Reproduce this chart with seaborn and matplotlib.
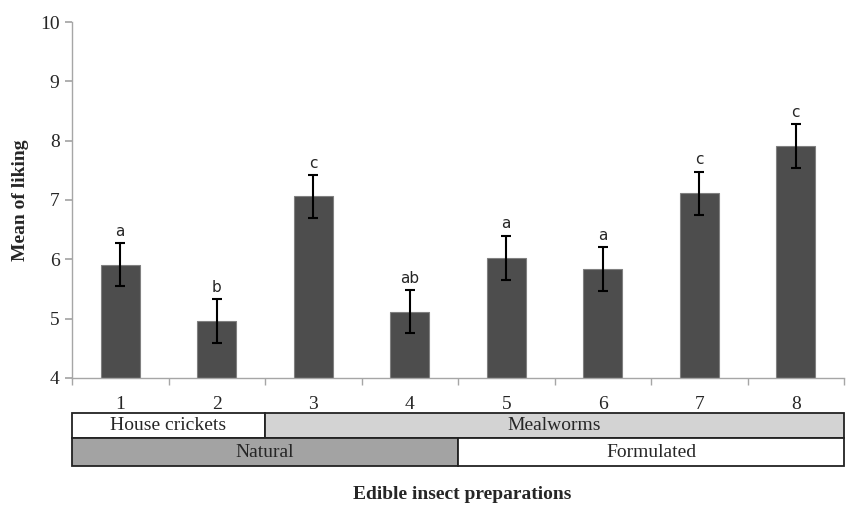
import pandas as pd
import matplotlib.pyplot as plt
import matplotlib.transforms as mtransforms
from matplotlib.patches import Rectangle
import seaborn as sns

# data
preparations = ['1', '2', '3', '4', '5', '6', '7', '8']
mean_liking = [5.91, 4.96, 7.06, 5.12, 6.03, 5.83, 7.11, 7.91]
std_error = [0.36, 0.37, 0.36, 0.36, 0.37, 0.37, 0.37, 0.37]
letters = ['a', 'b', 'c', 'ab', 'a', 'a', 'c', 'c']

# grouping rows under the x axis: (label, first index, last index)
insect_row = [('House crickets', 0, 1), ('Mealworms', 2, 7)]
insect_colors = ['white', '#d3d3d3']
form_row = [('Natural', 0, 3), ('Formulated', 4, 7)]
form_colors = ['#a3a3a3', 'white']

sns.set_theme(style="white")
plt.rcParams['font.family'] = ['Liberation Serif', 'DejaVu Serif']

df = pd.DataFrame({'prep': preparations, 'mean': mean_liking, 'se': std_error})

fig = plt.figure(figsize=(8.46, 5.09), dpi=100)
ax = fig.add_axes([72 / 846, 1 - 378 / 509, 772 / 846, 356 / 509])

sns.barplot(data=df, x='prep', y='mean', color='#4d4d4d', width=0.4,
            edgecolor='#808080', linewidth=0.8, saturation=1, errorbar=None, ax=ax)
xs = range(len(preparations))
ax.errorbar(xs, mean_liking, yerr=std_error, fmt='none', ecolor='black',
            elinewidth=1.5, capsize=3.5, capthick=1.5)

for x, m, e, l in zip(xs, mean_liking, std_error, letters):
    ax.annotate(l, (x, m + e), xytext=(0, 3), textcoords='offset points',
                ha='center', va='bottom', fontsize=11, family='DejaVu Sans')

ax.set_ylim(4, 10)
ax.set_xlim(-0.5, len(preparations) - 0.5)
ax.set_yticks(range(4, 11))
ax.tick_params(axis='y', left=True, length=5, color='#a6a6a6', labelsize=14, pad=4)
ax.tick_params(axis='x', which='major', length=0, labelsize=14, pad=13)
ax.set_xticks([i - 0.5 for i in range(len(preparations) + 1)], minor=True)
ax.tick_params(axis='x', which='minor', bottom=True, length=5, color='#a6a6a6')
sns.despine(ax=ax)
for s in ['left', 'bottom']:
    ax.spines[s].set_color('#a6a6a6')
    ax.spines[s].set_linewidth(1)

ax.set_ylabel('Mean of liking', fontsize=14, fontweight='bold', va='center')
ax.yaxis.set_label_coords(-0.067, 0.5)
ax.set_xlabel('Edible insect preparations', fontsize=14, fontweight='bold', va='center')
ax.xaxis.set_label_coords(0.506, -0.328)

# table of groups below the axis
trans = mtransforms.blended_transform_factory(ax.transData, ax.transAxes)
rows = [(insect_row, insect_colors, -0.0983, -0.1685),
        (form_row, form_colors, -0.1685, -0.2483)]
for cells, colors, top, bottom in rows:
    for (label, i0, i1), c in zip(cells, colors):
        x0, x1 = i0 - 0.5, i1 + 0.5
        ax.add_patch(Rectangle((x0, bottom), x1 - x0, top - bottom, transform=trans,
                               facecolor=c, edgecolor='#222222', linewidth=1.3, clip_on=False))
        ax.text((x0 + x1) / 2, (top + bottom) / 2, label, transform=trans,
                ha='center', va='center', fontsize=14)

fig.savefig('out.png', dpi=100)
